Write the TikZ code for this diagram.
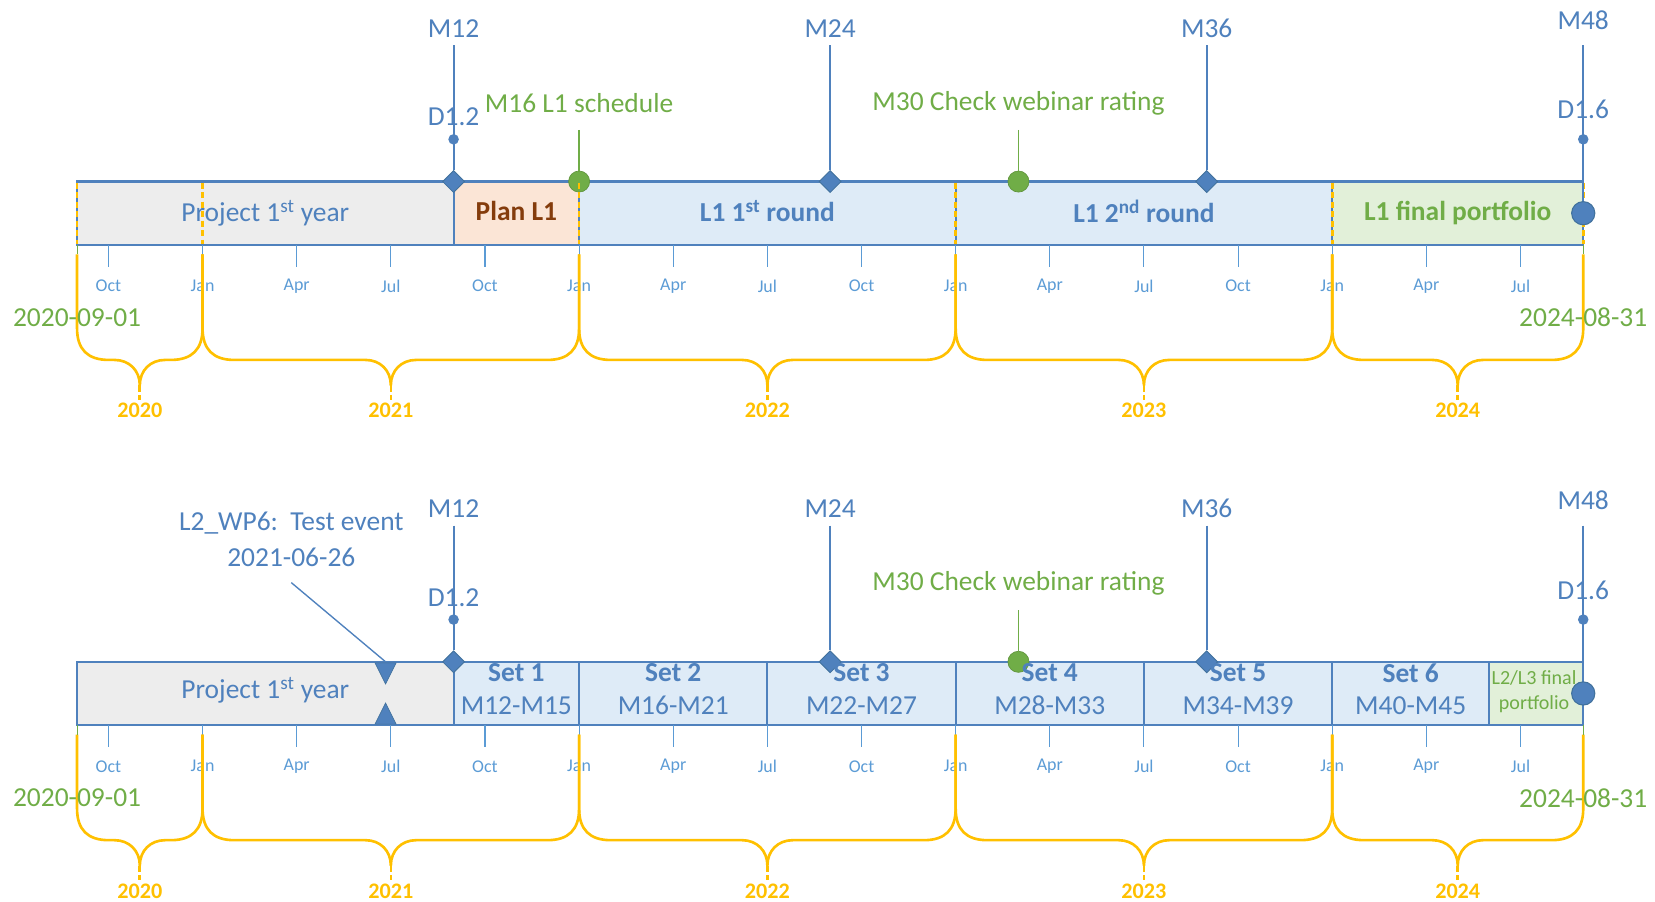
\documentclass[tikz,border=0pt]{standalone}
\usepackage{fontspec}
\setmainfont{Carlito}
\usetikzlibrary{shapes.geometric}
\definecolor{tblue}{RGB}{79,129,189}
\definecolor{dblue}{RGB}{65,113,156}
\definecolor{lblue}{RGB}{91,155,213}
\definecolor{tgreen}{RGB}{112,173,71}
\definecolor{torange}{RGB}{255,192,0}
\definecolor{fgray}{RGB}{237,237,237}
\definecolor{fpeach}{RGB}{251,229,214}
\definecolor{fblue}{RGB}{222,235,247}
\definecolor{fgreen}{RGB}{226,240,217}
\definecolor{tbrown}{RGB}{132,60,12}
\tikzset{
  segbox/.style={draw=tblue, line width=2pt, minimum height=60pt, inner sep=0pt, outer sep=0pt,
    text=tblue, font=\fontsize{26}{31}\selectfont, align=center},
  settext/.style={text=tblue, font=\fontsize{26}{31}\selectfont, align=center, inner sep=0pt},
  mlabel/.style={text=tblue, font=\fontsize{26}{31}\selectfont, inner sep=0pt},
  glabel/.style={text=tgreen, font=\fontsize{26}{31}\selectfont, inner sep=0pt},
  mline/.style={draw=tblue, line width=1.8pt},
  gline/.style={draw=tgreen, line width=1.3pt},
  diam/.style={diamond, fill=tblue, draw=dblue, line width=0.8pt, minimum width=21pt, minimum height=21pt, inner sep=0pt},
  ddot/.style={circle, fill=tblue, minimum size=10pt, inner sep=0pt},
  gdot/.style={circle, fill=tgreen, draw=tgreen!85!black, line width=0.6pt, minimum size=20pt, inner sep=0pt},
  bigdot/.style={circle, fill=tblue, draw=dblue, line width=1pt, minimum size=22pt, inner sep=0pt},
  tickline/.style={draw=lblue, line width=1pt},
  ticklab/.style={text=lblue, font=\fontsize{17}{20}\selectfont, inner sep=0pt},
  yrbrace/.style={draw=torange, line width=2.5pt, line join=round},
  ydash/.style={draw=torange, line width=2.5pt, dash pattern=on 6pt off 3pt},
  yearlab/.style={text=torange, font=\bfseries\fontsize{21}{25}\selectfont, inner sep=0pt},
  trimark/.style={fill=tblue, draw=dblue, line width=0.6pt, line join=miter},
}
\newcommand\tlaxis[1]{%
  \foreach \m/\lab in {1/Oct,4/Jan,7/Apr,10/Jul,13/Oct,16/Jan,19/Apr,22/Jul,25/Oct,28/Jan,31/Apr,34/Jul,37/Oct,40/Jan,43/Apr,46/Jul}{%
    \pgfmathsetmacro\xx{73+\m*29.7292}
    \draw[tickline] (\xx,232) -- (\xx,253);
    \node[ticklab] (#1t\m) at (\xx,271) {\lab};
  }
  \foreach \ma/\mb/\yr in {0/4/2020,4/16/2021,16/28/2022,28/40/2023,40/48/2024}{%
    \pgfmathsetmacro\xa{73+\ma*29.7292}
    \pgfmathsetmacro\xb{73+\mb*29.7292}
    \pgfmathsetmacro\xc{(\xa+\xb)/2}
    \draw[yrbrace] (\xa,241) -- (\xa,311) .. controls (\xa,331) and ({\xa+10},341) .. ({\xa+30},341)
      -- ({\xc-24},341) .. controls ({\xc-10},341) and (\xc,351) .. (\xc,365)
      .. controls (\xc,351) and ({\xc+10},341) .. ({\xc+24},341)
      -- ({\xb-30},341) .. controls ({\xb-10},341) and (\xb,331) .. (\xb,311) -- (\xb,241);
    \draw[ydash] (\xc,365) -- (\xc,379);
    \node[yearlab] (#1y\yr) at (\xc,389) {\yr};
  }
  \draw[tgreen, line width=1pt] (73,232) -- (73,241);
  \draw[tgreen, line width=1pt] (1500,232) -- (1500,241);
  \node[glabel] (#1start) at (73,301) {2020-09-01};
  \node[glabel] (#1end) at (1500,301) {2024-08-31};
  % M12
  \node[mlabel] (#1m12) at (429.75,27) {M12};
  \node[mlabel] (#1d12l) at (429.75,111) {D1.2};
  \coordinate (#1m12top) at (429.75,43);
  \node[diam] (#1m12d) at (429.75,172) {};
  \draw[mline] (#1m12top) -- (#1m12d);
  \node[ddot] (#1d12) at (429.75,132) {};
  % M24
  \node[mlabel] (#1m24) at (786.5,27) {M24};
  \coordinate (#1m24top) at (786.5,43);
  \node[diam] (#1m24d) at (786.5,172) {};
  \draw[mline] (#1m24top) -- (#1m24d);
  % M36
  \node[mlabel] (#1m36) at (1143.25,27) {M36};
  \coordinate (#1m36top) at (1143.25,43);
  \node[diam] (#1m36d) at (1143.25,172) {};
  \draw[mline] (#1m36top) -- (#1m36d);
  % M48
  \node[mlabel] (#1m48) at (1500,19) {M48};
  \node[mlabel] (#1d16l) at (1500,104) {D1.6};
  \coordinate (#1m48top) at (1500,43);
  \node[bigdot] (#1fin) at (1500,202) {};
  \draw[mline] (#1m48top) -- (#1fin);
  \node[ddot] (#1d16) at (1500,132) {};
  % M30
  \node[glabel] (#1m30) at (964.9,98) {M30 Check webinar rating};
  \coordinate (#1m30top) at (964.9,123);
  \node[gdot] (#1m30c) at (964.9,172) {};
  \draw[gline] (#1m30top) -- (#1m30c);
}
\begin{document}
\begin{tikzpicture}[x=1pt,y=-1pt]
\useasboundingbox (0,0) rectangle (1568,854);
% ================= TOP TIMELINE =================
\node[segbox, fill=fgray, minimum width=356.75pt] (tp1) at (251.38,202) {\raisebox{3pt}{Project 1\textsuperscript{st} year}};
\node[segbox, fill=fpeach, minimum width=118.92pt, text=tbrown, font=\bfseries\fontsize{26}{31}\selectfont] (tplan) at (489.2,202) {\raisebox{4pt}{Plan L1}};
\node[segbox, fill=fblue, minimum width=356.75pt, font=\bfseries\fontsize{26}{31}\selectfont] (tr1) at (727.03,202) {\raisebox{4pt}{L1 1\textsuperscript{st} round}};
\node[segbox, fill=fblue, minimum width=356.75pt, font=\bfseries\fontsize{26}{31}\selectfont] (tr2) at (1083.78,202) {\raisebox{4pt}{L1 2\textsuperscript{nd} round}};
\node[segbox, fill=fgreen, minimum width=237.83pt, text=tgreen, font=\bfseries\fontsize{26}{31}\selectfont] (tfp) at (1381.08,202) {\raisebox{3pt}{L1 final portfolio}};
\foreach \m in {0,4,16,28,40,48}{%
  \pgfmathsetmacro\xx{73+\m*29.7292}
  \draw[ydash] (\xx,173) -- (\xx,231);
}
\tlaxis{T}
% M16 (top only)
\node[glabel] (tm16) at (548.67,98) {M16 L1 schedule};
\coordinate (tm16top) at (548.67,123);
\node[gdot] (tm16c) at (548.67,172) {};
\draw[gline] (tm16top) -- (tm16c);
\draw[ydash] (548.67,173) -- (548.67,231);
% ================= BOTTOM TIMELINE =================
\begin{scope}[yshift=-455pt]
\node[segbox, fill=fgray, minimum width=356.75pt] (bp1) at (251.38,202) {};
\node[segbox, fill=fblue, minimum width=118.92pt] (bs1) at (489.2,202) {};
\node[segbox, fill=fblue, minimum width=178.38pt] (bs2) at (637.86,202) {};
\node[segbox, fill=fblue, minimum width=178.38pt] (bs3) at (816.21,202) {};
\node[segbox, fill=fblue, minimum width=178.38pt] (bs4) at (994.59,202) {};
\node[segbox, fill=fblue, minimum width=178.38pt] (bs5) at (1172.97,202) {};
\node[segbox, fill=fblue, minimum width=148.65pt] (bs6) at (1336.53,202) {};
\node[segbox, fill=fgreen, minimum width=89.19pt] (bfp) at (1455.41,202) {};
% event marker
\path[trimark] (355.3,173) -- (375.3,173) -- (365.3,193) -- cycle;
\path[trimark] (355.3,231) -- (375.3,231) -- (365.3,211) -- cycle;
\node[mlabel, align=center, font=\fontsize{26}{34}\selectfont] (bev) at (276,56) {L2\_WP6:~~Test event\\2021-06-26};
\coordinate (bevs) at (276,97);
\coordinate (bevt) at (365.3,172);
\draw[draw=tblue, line width=1.3pt] (bevs) -- (bevt);
\tlaxis{B}
\node[settext] (bp1t) at ([yshift=3pt]bp1.center) {Project 1\textsuperscript{st} year};
\node[settext] (bs1t) at ([yshift=4pt]bs1.center) {\textbf{Set 1}\\M12-M15};
\node[settext] (bs2t) at ([yshift=4pt]bs2.center) {\textbf{Set 2}\\M16-M21};
\node[settext] (bs3t) at ([yshift=4pt]bs3.center) {\textbf{Set 3}\\M22-M27};
\node[settext] (bs4t) at ([yshift=4pt]bs4.center) {\textbf{Set 4}\\M28-M33};
\node[settext] (bs5t) at ([yshift=4pt]bs5.center) {\textbf{Set 5}\\M34-M39};
\node[settext] (bs6t) at ([yshift=4pt]bs6.center) {\textbf{Set 6}\\M40-M45};
\node[settext, text=tgreen, font=\fontsize{19}{24}\selectfont] (bfpt) at ([xshift=-2pt,yshift=2pt]bfp.center) {L2/L3 final\\portfolio};
\end{scope}
\end{tikzpicture}
\end{document}
